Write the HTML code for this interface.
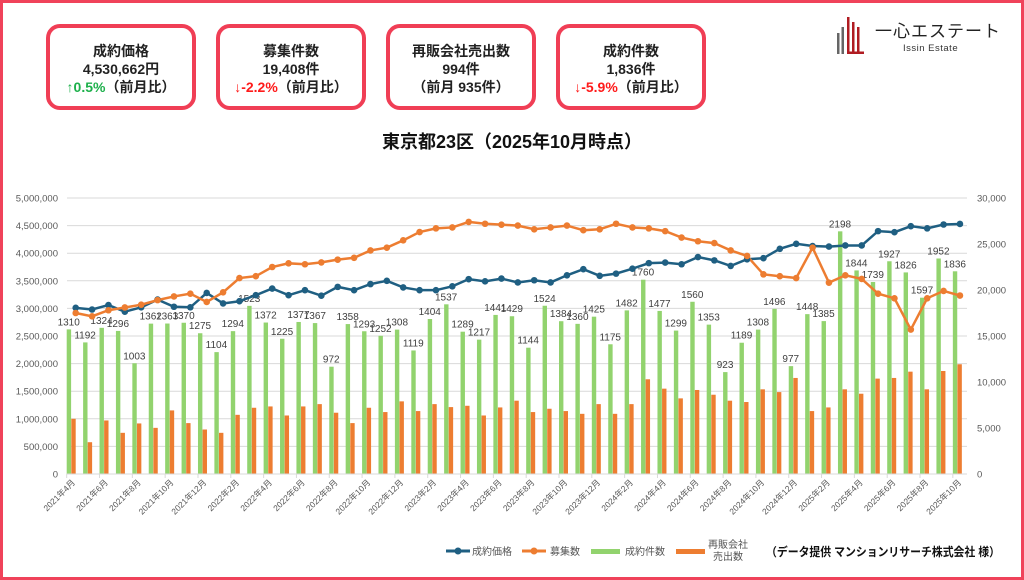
<!DOCTYPE html>
<html><head><meta charset="utf-8">
<style>
html,body{margin:0;padding:0;background:#fff;}
body{width:1024px;height:580px;position:relative;overflow:hidden;font-family:"Liberation Sans","Noto Sans CJK JP",sans-serif;}
.frame{position:absolute;left:0;top:0;width:1018px;height:574px;border:3px solid #f0425a;}
.card{position:absolute;top:24px;width:142px;border:4px solid #f03e55;border-radius:14px;text-align:center;font-weight:bold;font-size:14px;line-height:18px;color:#222;padding-top:14px;box-sizing:content-box;height:64px;}
.g{color:#1db04b}.r{color:#ff1a1a}
.title{position:absolute;top:128px;left:0;width:1024px;text-align:center;font-size:18px;font-weight:bold;color:#111;}
</style></head><body>
<div class="frame"></div>
<div class="card" style="left:46px">成約価格<br>4,530,662円<br><span class="g">↑0.5%</span>（前月比）</div>
<div class="card" style="left:216px">募集件数<br>19,408件<br><span class="r">↓-2.2%</span>（前月比）</div>
<div class="card" style="left:386px">再販会社売出数<br>994件<br>（前月 935件）</div>
<div class="card" style="left:556px">成約件数<br>1,836件<br><span class="r">↓-5.9%</span>（前月比）</div>
<div class="title">東京都23区（2025年10月時点）</div>
<svg style="position:absolute;left:0;top:0" width="1024" height="580">
<g>
<rect x="837" y="33" width="2.5" height="21" fill="#666"/>
<rect x="841.5" y="27" width="2.5" height="27" fill="#666"/>
<rect x="847" y="17" width="2.5" height="37" fill="#b01c22"/>
<rect x="852" y="22" width="2.5" height="32" fill="#b01c22"/>
<rect x="857" y="27" width="2.5" height="27" fill="#b01c22"/>
<rect x="847" y="51.5" width="17" height="2.5" fill="#b01c22"/>
<text x="875" y="37" font-size="17" fill="#222" font-family="Liberation Sans,Noto Sans CJK JP,sans-serif" letter-spacing="1">一心エステート</text>
<text x="903" y="51" font-size="9.5" fill="#333" font-family="Liberation Sans,sans-serif" letter-spacing="0.5">Issin Estate</text>
</g>
<g id="chart"></g>
<g font-size="10" fill="#555" font-family="Liberation Sans,Noto Sans CJK JP,sans-serif">
<line x1="446" y1="551" x2="470" y2="551" stroke="#1f5f82" stroke-width="3"/><circle cx="458" cy="551" r="3.5" fill="#1f5f82"/>
<text x="472" y="555">成約価格</text>
<line x1="522" y1="551" x2="546" y2="551" stroke="#ed7d31" stroke-width="3"/><circle cx="534" cy="551" r="3.5" fill="#ed7d31"/>
<text x="550" y="555">募集数</text>
<rect x="591" y="549" width="29" height="5" fill="#92d36e"/>
<text x="625" y="555">成約件数</text>
<rect x="676" y="549" width="29" height="5" fill="#ed7d31"/>
<text x="728" y="548" text-anchor="middle">再販会社</text>
<text x="728" y="560" text-anchor="middle">売出数</text>
<text x="766" y="556" font-size="12" font-weight="bold" fill="#111" textLength="234" lengthAdjust="spacingAndGlyphs">（データ提供 マンションリサーチ株式会社 様）</text>
</g>
</svg>
<script>
var cnt=[1310,1192,1324,1296,1003,1362,1363,1370,1275,1104,1294,1523,1372,1225,1377,1367,972,1358,1293,1252,1308,1119,1404,1537,1289,1217,1441,1429,1144,1524,1384,1360,1425,1175,1482,1760,1477,1299,1560,1353,923,1189,1308,1496,977,1448,1385,2198,1844,1739,1927,1826,1597,1952,1836];
var res=[500,288,485,373,458,418,576,461,403,373,536,600,612,530,612,633,555,461,600,561,658,570,633,606,618,530,603,664,561,591,570,545,633,545,633,858,773,685,761,718,664,652,767,742,870,570,603,767,727,864,870,927,767,933,994];
var price=[3.01,2.98,3.06,2.94,3.02,3.16,3.03,3.02,3.28,3.09,3.13,3.24,3.36,3.24,3.33,3.23,3.39,3.33,3.44,3.50,3.38,3.33,3.33,3.40,3.53,3.49,3.54,3.47,3.51,3.47,3.60,3.71,3.59,3.63,3.72,3.82,3.83,3.80,3.93,3.87,3.77,3.89,3.91,4.08,4.17,4.13,4.12,4.14,4.14,4.40,4.38,4.49,4.45,4.52,4.53];
var bos=[17.5,17.14,17.8,18.1,18.4,18.9,19.3,19.6,18.7,19.75,21.3,21.5,22.5,22.9,22.8,23.0,23.3,23.5,24.3,24.6,25.4,26.3,26.7,26.8,27.4,27.2,27.1,27.0,26.6,26.8,27.0,26.5,26.6,27.2,26.8,26.7,26.4,25.7,25.3,25.1,24.3,23.7,21.7,21.5,21.3,24.6,20.8,21.6,21.2,19.6,19.1,15.7,19.1,19.9,19.4];
var g=document.getElementById('chart'),s='';
function yL(v){return 474-v/5000000*276;}
function yR(v){return 474-v/30000*276;}
for(var k=0;k<=10;k++){var y=474-k*27.6;
 s+='<line x1="67" x2="967" y1="'+y+'" y2="'+y+'" stroke="#d9d9d9" stroke-width="1"/>';
 s+='<text x="58" y="'+(y+3.5)+'" text-anchor="end" font-size="9.5" fill="#595959">'+(k*500000).toLocaleString('en-US')+'</text>';}
for(var k=0;k<=6;k++){var y=474-k*46;
 s+='<text x="977" y="'+(y+3.5)+'" font-size="9.5" fill="#595959">'+(k*5000).toLocaleString('en-US')+'</text>';}
for(var i=0;i<55;i++){var gx=66.7+i*16.41;
 var gh=cnt[i]*2000/5000000*276, oh=res[i]*2000/5000000*276;
 s+='<rect x="'+gx+'" y="'+(474-gh)+'" width="4.4" height="'+gh+'" fill="#92d36e"/>';
 s+='<rect x="'+(gx+4.6)+'" y="'+(474-oh)+'" width="4.4" height="'+oh+'" fill="#ed7d31"/>';
 s+='<text x="'+(gx+2)+'" y="'+(474-gh-4)+'" text-anchor="middle" font-size="10" fill="#404040">'+cnt[i]+'</text>';
 if(i%2==0){var tx=66.7+i*16.41;
  s+='<line x1="'+tx+'" x2="'+tx+'" y1="474" y2="478" stroke="#d9d9d9"/>';
  var m=(i+3)%12+1,yr=2021+Math.floor((i+3)/12);
  s+='<text transform="translate('+(tx+9)+',483) rotate(-45)" text-anchor="end" font-size="8.5" fill="#595959">'+yr+'年'+m+'月</text>';}
}
s+='<line x1="67" x2="967" y1="474" y2="474" stroke="#d9d9d9"/>';
var pb='',po='';
for(var i=0;i<55;i++){var x=75.7+i*16.375;pb+=(i?'L':'M')+x+','+yL(price[i]*1e6);po+=(i?'L':'M')+x+','+yR(bos[i]*1000);}
s+='<path d="'+pb+'" fill="none" stroke="#1f5f82" stroke-width="2.5"/>';
s+='<path d="'+po+'" fill="none" stroke="#ed7d31" stroke-width="2.5"/>';
for(var i=0;i<55;i++){var x=75.7+i*16.375;
 s+='<circle cx="'+x+'" cy="'+yL(price[i]*1e6)+'" r="3.3" fill="#1f5f82"/>';
 s+='<circle cx="'+x+'" cy="'+yR(bos[i]*1000)+'" r="3.3" fill="#ed7d31"/>';}
g.innerHTML=s;
g.setAttribute('font-family','Liberation Sans,Noto Sans CJK JP,sans-serif');
</script>
</body></html>
